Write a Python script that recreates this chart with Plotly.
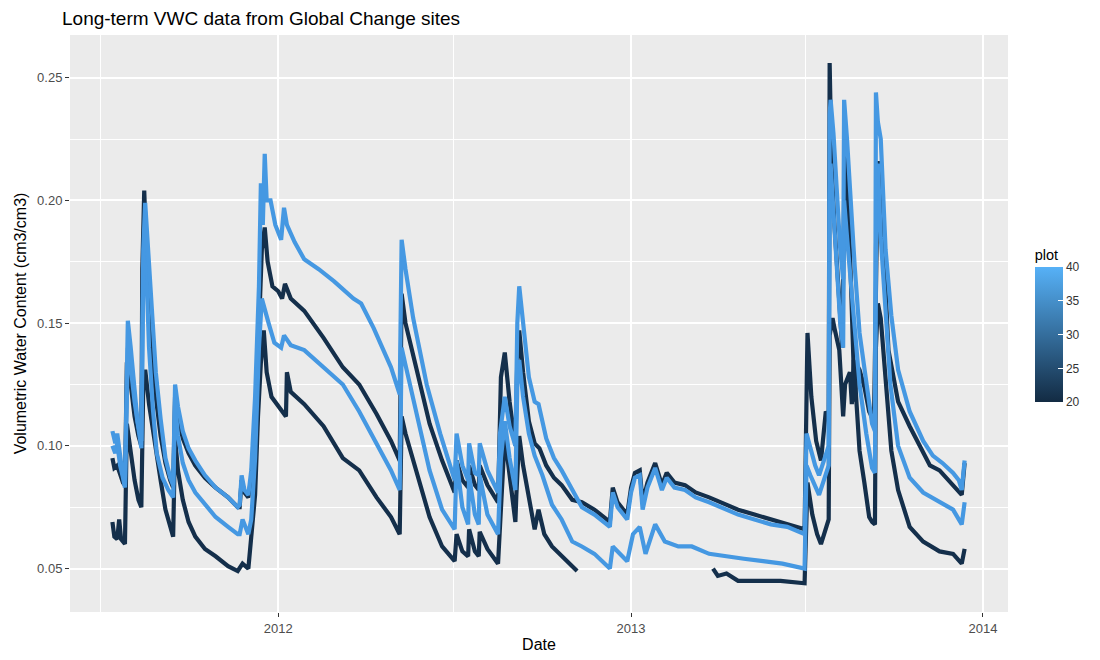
import plotly.graph_objects as go

# four soil moisture probes (cm3/cm3)
a_dates = ['2011-07-13', '2011-07-16', '2011-07-18', '2011-07-21', '2011-07-23', '2011-07-26', '2011-07-29', '2011-08-01',
           '2011-08-04', '2011-08-08', '2011-08-12', '2011-08-14', '2011-08-16', '2011-08-19', '2011-08-24', '2011-08-27',
           '2011-09-01', '2011-09-06', '2011-09-11', '2011-09-14', '2011-09-16', '2011-09-19', '2011-09-24', '2011-09-30',
           '2011-10-07', '2011-10-17', '2011-10-28', '2011-11-10', '2011-11-20', '2011-11-22', '2011-11-24', '2011-11-27',
           '2011-12-01', '2011-12-04', '2011-12-08', '2011-12-12', '2011-12-14', '2011-12-16', '2011-12-18', '2011-12-20',
           '2011-12-24', '2011-12-29', '2012-01-04', '2012-01-07', '2012-01-10', '2012-01-18', '2012-01-28', '2012-02-12',
           '2012-02-28', '2012-03-19', '2012-03-27', '2012-04-09', '2012-04-27', '2012-05-06', '2012-05-08', '2012-05-12',
           '2012-05-20', '2012-06-03', '2012-06-17', '2012-07-02', '2012-07-04', '2012-07-10', '2012-07-16', '2012-07-17',
           '2012-07-23', '2012-07-27', '2012-07-28', '2012-08-05', '2012-08-16', '2012-08-18', '2012-08-23', '2012-08-28',
           '2012-09-03', '2012-09-05', '2012-09-07', '2012-09-11', '2012-09-17', '2012-09-23', '2012-09-27', '2012-10-05',
           '2012-10-13', '2012-10-21', '2012-11-01', '2012-11-11', '2012-11-24', '2012-12-10', '2012-12-13', '2012-12-18',
           '2012-12-28', '2013-01-01', '2013-01-05', '2013-01-10', '2013-01-13', '2013-01-18', '2013-01-26', '2013-02-02',
           '2013-02-07', '2013-02-15', '2013-02-26', '2013-03-09', '2013-03-23', '2013-04-05', '2013-04-22', '2013-05-09',
           '2013-05-26', '2013-06-12', '2013-06-30', '2013-07-02', '2013-07-06', '2013-07-11', '2013-07-15', '2013-07-20',
           '2013-07-25', '2013-07-26', '2013-07-27', '2013-07-30', '2013-08-03', '2013-08-06', '2013-08-09', '2013-08-10',
           '2013-08-13', '2013-08-16', '2013-08-21', '2013-08-26', '2013-08-31', '2013-09-05', '2013-09-08', '2013-09-11',
           '2013-09-12', '2013-09-14', '2013-09-17', '2013-09-22', '2013-09-28', '2013-10-05', '2013-10-17', '2013-10-31',
           '2013-11-10', '2013-11-20', '2013-12-01', '2013-12-07', '2013-12-10', '2013-12-13']
a_vwc = [0.106, 0.101, 0.105, 0.095, 0.090, 0.084, 0.151, 0.140,
         0.125, 0.110, 0.102, 0.180, 0.199, 0.180, 0.150, 0.130,
         0.111, 0.095, 0.087, 0.084, 0.125, 0.116, 0.106, 0.099,
         0.094, 0.088, 0.083, 0.079, 0.075, 0.076, 0.088, 0.082,
         0.080, 0.090, 0.120, 0.165, 0.207, 0.190, 0.219, 0.200,
         0.200, 0.190, 0.184, 0.197, 0.190, 0.183, 0.176, 0.172,
         0.167, 0.160, 0.158, 0.148, 0.132, 0.121, 0.184, 0.172,
         0.152, 0.125, 0.105, 0.086, 0.105, 0.092, 0.086, 0.101,
         0.089, 0.088, 0.101, 0.090, 0.081, 0.105, 0.120, 0.108,
         0.100, 0.150, 0.165, 0.150, 0.128, 0.118, 0.117, 0.103,
         0.095, 0.090, 0.082, 0.075, 0.072, 0.067, 0.081, 0.075,
         0.070, 0.081, 0.087, 0.088, 0.074, 0.083, 0.091, 0.082,
         0.087, 0.083, 0.082, 0.079, 0.077, 0.075, 0.072, 0.070,
         0.068, 0.067, 0.064, 0.105, 0.099, 0.092, 0.088, 0.094,
         0.100, 0.235, 0.241, 0.227, 0.200, 0.180, 0.168, 0.241,
         0.225, 0.205, 0.173, 0.146, 0.132, 0.118, 0.109, 0.106,
         0.244, 0.232, 0.225, 0.180, 0.153, 0.131, 0.114, 0.102,
         0.096, 0.093, 0.089, 0.086, 0.082, 0.094]

b_dates = ['2011-07-13', '2011-07-15', '2011-07-18', '2011-07-21', '2011-07-24', '2011-07-26', '2011-07-28', '2011-08-01',
           '2011-08-05', '2011-08-09', '2011-08-12', '2011-08-13', '2011-08-15', '2011-08-18', '2011-08-22', '2011-08-27',
           '2011-09-01', '2011-09-06', '2011-09-11', '2011-09-14', '2011-09-16', '2011-09-19', '2011-09-24', '2011-09-30',
           '2011-10-07', '2011-10-17', '2011-10-28', '2011-11-10', '2011-11-20', '2011-11-22', '2011-11-24', '2011-11-27',
           '2011-12-01', '2011-12-04', '2011-12-08', '2011-12-12', '2011-12-15', '2011-12-18', '2011-12-21', '2011-12-26',
           '2012-01-01', '2012-01-05', '2012-01-08', '2012-01-14', '2012-01-28', '2012-02-17', '2012-03-08', '2012-03-25',
           '2012-04-12', '2012-04-27', '2012-05-06', '2012-05-08', '2012-05-12', '2012-05-23', '2012-06-06', '2012-06-19',
           '2012-07-02', '2012-07-04', '2012-07-10', '2012-07-16', '2012-07-17', '2012-07-23', '2012-07-27', '2012-07-28',
           '2012-08-05', '2012-08-16', '2012-08-19', '2012-08-23', '2012-08-28', '2012-09-03', '2012-09-05', '2012-09-07',
           '2012-09-11', '2012-09-17', '2012-09-23', '2012-09-28', '2012-10-05', '2012-10-13', '2012-10-21', '2012-11-01',
           '2012-11-11', '2012-11-24', '2012-12-10', '2012-12-13', '2012-12-18', '2012-12-28', '2013-01-01', '2013-01-05',
           '2013-01-10', '2013-01-13', '2013-01-18', '2013-01-26', '2013-02-02', '2013-02-07', '2013-02-15', '2013-02-26',
           '2013-03-09', '2013-03-23', '2013-04-05', '2013-04-22', '2013-05-09', '2013-05-26', '2013-06-12', '2013-06-30',
           '2013-07-03', '2013-07-07', '2013-07-12', '2013-07-17', '2013-07-22', '2013-07-25', '2013-07-26', '2013-07-28',
           '2013-07-31', '2013-08-04', '2013-08-08', '2013-08-10', '2013-08-12', '2013-08-16', '2013-08-19', '2013-08-21',
           '2013-08-23', '2013-08-26', '2013-08-31', '2013-09-05', '2013-09-10', '2013-09-12', '2013-09-14', '2013-09-17',
           '2013-09-20', '2013-09-25', '2013-10-05', '2013-10-17', '2013-10-31', '2013-11-07', '2013-11-17', '2013-11-28',
           '2013-12-10', '2013-12-13']
b_vwc = [0.095, 0.091, 0.092, 0.088, 0.085, 0.084, 0.134, 0.125,
         0.112, 0.104, 0.100, 0.172, 0.204, 0.170, 0.145, 0.120,
         0.104, 0.093, 0.086, 0.083, 0.120, 0.112, 0.103, 0.097,
         0.092, 0.087, 0.083, 0.079, 0.075, 0.075, 0.086, 0.081,
         0.079, 0.087, 0.105, 0.150, 0.180, 0.189, 0.175, 0.165,
         0.163, 0.160, 0.166, 0.160, 0.155, 0.144, 0.132, 0.125,
         0.113, 0.102, 0.094, 0.162, 0.150, 0.132, 0.109, 0.094,
         0.081, 0.094, 0.086, 0.083, 0.092, 0.084, 0.082, 0.092,
         0.084, 0.077, 0.128, 0.138, 0.118, 0.100, 0.135, 0.147,
         0.130, 0.110, 0.101, 0.099, 0.092, 0.087, 0.084, 0.078,
         0.077, 0.074, 0.069, 0.083, 0.077, 0.072, 0.083, 0.089,
         0.090, 0.077, 0.085, 0.093, 0.084, 0.089, 0.085, 0.084,
         0.081, 0.079, 0.077, 0.074, 0.072, 0.070, 0.068, 0.066,
         0.146, 0.120, 0.102, 0.094, 0.114, 0.112, 0.256, 0.214,
         0.190, 0.165, 0.140, 0.200, 0.218, 0.180, 0.139, 0.118,
         0.133, 0.131, 0.124, 0.114, 0.110, 0.170, 0.216, 0.200,
         0.180, 0.139, 0.118, 0.108, 0.097, 0.092, 0.090, 0.085,
         0.080, 0.093]

c_dates = ['2011-07-13', '2011-07-16', '2011-07-18', '2011-07-21', '2011-07-24', '2011-07-26', '2011-07-29', '2011-08-01',
           '2011-08-05', '2011-08-09', '2011-08-12', '2011-08-14', '2011-08-16', '2011-08-20', '2011-08-24', '2011-08-28',
           '2011-09-03', '2011-09-09', '2011-09-14', '2011-09-16', '2011-09-19', '2011-09-24', '2011-09-30', '2011-10-07',
           '2011-10-17', '2011-10-28', '2011-11-10', '2011-11-20', '2011-11-22', '2011-11-25', '2011-12-01', '2011-12-04',
           '2011-12-08', '2011-12-12', '2011-12-15', '2011-12-18', '2011-12-22', '2011-12-28', '2012-01-04', '2012-01-07',
           '2012-01-14', '2012-01-28', '2012-02-17', '2012-03-08', '2012-03-25', '2012-04-12', '2012-04-27', '2012-05-06',
           '2012-05-08', '2012-05-12', '2012-05-23', '2012-06-06', '2012-06-19', '2012-07-02', '2012-07-04', '2012-07-10',
           '2012-07-16', '2012-07-17', '2012-07-23', '2012-07-27', '2012-07-28', '2012-08-05', '2012-08-16', '2012-08-19',
           '2012-08-23', '2012-08-28', '2012-09-03', '2012-09-05', '2012-09-07', '2012-09-11', '2012-09-17', '2012-09-23',
           '2012-10-01', '2012-10-11', '2012-10-21', '2012-11-01', '2012-11-11', '2012-11-24', '2012-12-10', '2012-12-13',
           '2012-12-28', '2013-01-03', '2013-01-10', '2013-01-16', '2013-01-26', '2013-02-05', '2013-02-19', '2013-03-05',
           '2013-03-23', '2013-04-08', '2013-04-28', '2013-05-18', '2013-06-07', '2013-06-30', '2013-07-02', '2013-07-06',
           '2013-07-11', '2013-07-15', '2013-07-20', '2013-07-25', '2013-07-26', '2013-07-27', '2013-07-30', '2013-08-03',
           '2013-08-06', '2013-08-09', '2013-08-10', '2013-08-13', '2013-08-17', '2013-08-21', '2013-08-26', '2013-09-02',
           '2013-09-08', '2013-09-11', '2013-09-12', '2013-09-14', '2013-09-17', '2013-09-20', '2013-09-27', '2013-10-05',
           '2013-10-17', '2013-10-31', '2013-11-17', '2013-12-01', '2013-12-10', '2013-12-13']
c_vwc = [0.100, 0.097, 0.101, 0.092, 0.087, 0.083, 0.140, 0.132,
         0.118, 0.106, 0.099, 0.170, 0.185, 0.140, 0.115, 0.097,
         0.087, 0.082, 0.079, 0.117, 0.104, 0.093, 0.086, 0.081,
         0.076, 0.071, 0.067, 0.064, 0.064, 0.070, 0.064, 0.070,
         0.095, 0.140, 0.160, 0.155, 0.150, 0.142, 0.140, 0.145,
         0.141, 0.139, 0.132, 0.125, 0.114, 0.101, 0.090, 0.082,
         0.140, 0.133, 0.114, 0.090, 0.074, 0.066, 0.094, 0.075,
         0.068, 0.088, 0.072, 0.068, 0.088, 0.072, 0.064, 0.095,
         0.110, 0.095, 0.082, 0.125, 0.135, 0.120, 0.105, 0.096,
         0.088, 0.076, 0.070, 0.061, 0.059, 0.056, 0.050, 0.059,
         0.053, 0.064, 0.067, 0.056, 0.068, 0.061, 0.059, 0.059,
         0.056, 0.055, 0.054, 0.053, 0.052, 0.050, 0.092, 0.088,
         0.083, 0.080, 0.086, 0.092, 0.200, 0.215, 0.195, 0.170,
         0.150, 0.140, 0.200, 0.185, 0.165, 0.146, 0.125, 0.105,
         0.091, 0.089, 0.180, 0.215, 0.185, 0.167, 0.125, 0.100,
         0.087, 0.081, 0.077, 0.074, 0.068, 0.077]

# this probe has no readings between Nov 2012 and late Mar 2013
d_dates = ['2011-07-13', '2011-07-15', '2011-07-18', '2011-07-20', '2011-07-22', '2011-07-26', '2011-07-28', '2011-08-01',
           '2011-08-05', '2011-08-09', '2011-08-12', '2011-08-14', '2011-08-16', '2011-08-20', '2011-08-26', '2011-09-01',
           '2011-09-06', '2011-09-14', '2011-09-16', '2011-09-19', '2011-09-24', '2011-09-30', '2011-10-07', '2011-10-17',
           '2011-10-28', '2011-11-10', '2011-11-20', '2011-11-25', '2011-12-01', '2011-12-03', '2011-12-08', '2011-12-11',
           '2011-12-14', '2011-12-17', '2011-12-20', '2011-12-25', '2012-01-01', '2012-01-09', '2012-01-10', '2012-01-14',
           '2012-01-28', '2012-02-17', '2012-03-08', '2012-03-25', '2012-04-12', '2012-04-27', '2012-05-06', '2012-05-08',
           '2012-05-12', '2012-05-23', '2012-06-06', '2012-06-19', '2012-07-02', '2012-07-04', '2012-07-10', '2012-07-16',
           '2012-07-17', '2012-07-23', '2012-07-27', '2012-07-28', '2012-08-05', '2012-08-16', '2012-08-19', '2012-08-23',
           '2012-08-28', '2012-09-03', '2012-09-04', '2012-09-07', '2012-09-11', '2012-09-17', '2012-09-23', '2012-09-27',
           '2012-10-03', '2012-10-11', '2012-10-21', '2012-11-01', '2012-11-06', '2012-12-15', '2013-03-27', '2013-04-01',
           '2013-04-10', '2013-04-22', '2013-05-12', '2013-06-05', '2013-06-30', '2013-07-03', '2013-07-08', '2013-07-13',
           '2013-07-17', '2013-07-22', '2013-07-25', '2013-07-26', '2013-07-29', '2013-07-31', '2013-08-05', '2013-08-09',
           '2013-08-11', '2013-08-16', '2013-08-18', '2013-08-20', '2013-08-26', '2013-08-31', '2013-09-05', '2013-09-08',
           '2013-09-11', '2013-09-12', '2013-09-14', '2013-09-17', '2013-09-22', '2013-09-28', '2013-10-05', '2013-10-17',
           '2013-10-31', '2013-11-17', '2013-12-01', '2013-12-10', '2013-12-13']
d_vwc = [0.069, 0.063, 0.062, 0.070, 0.062, 0.060, 0.109, 0.097,
         0.086, 0.078, 0.075, 0.125, 0.131, 0.117, 0.100, 0.086,
         0.074, 0.063, 0.103, 0.090, 0.078, 0.069, 0.063, 0.058,
         0.055, 0.051, 0.049, 0.052, 0.050, 0.058, 0.080, 0.112,
         0.134, 0.147, 0.130, 0.120, 0.116, 0.112, 0.130, 0.122,
         0.117, 0.108, 0.095, 0.090, 0.079, 0.071, 0.064, 0.112,
         0.105, 0.090, 0.071, 0.059, 0.053, 0.064, 0.057, 0.055,
         0.066, 0.057, 0.055, 0.065, 0.058, 0.052, 0.075, 0.104,
         0.088, 0.069, 0.080, 0.104, 0.092, 0.078, 0.066, 0.074,
         0.064, 0.059, 0.055, 0.051, 0.049, None, 0.050, 0.047,
         0.048, 0.045, 0.045, 0.045, 0.044, 0.085, 0.072, 0.064,
         0.060, 0.066, 0.070, 0.145, 0.152, 0.148, 0.139, 0.112,
         0.125, 0.130, 0.117, 0.135, 0.098, 0.085, 0.071, 0.069,
         0.068, 0.140, 0.158, 0.152, 0.125, 0.098, 0.082, 0.067,
         0.061, 0.057, 0.056, 0.052, 0.058]

plot_ids = [20, 21, 39, 40]
dark = '#142F4B'
light = '#4598E2'
font = 'Liberation Sans, Arial, sans-serif'
lw = 4.2

fig = go.Figure()
# dark probes first so the light ones sit on top, like ggplot's group order
fig.add_trace(go.Scatter(x=b_dates, y=b_vwc, mode='lines', line=dict(color=dark, width=lw), name='plot 20'))
fig.add_trace(go.Scatter(x=d_dates, y=d_vwc, mode='lines', line=dict(color=dark, width=lw), name='plot 21'))
fig.add_trace(go.Scatter(x=c_dates, y=c_vwc, mode='lines', line=dict(color=light, width=lw), name='plot 39'))
fig.add_trace(go.Scatter(x=a_dates, y=a_vwc, mode='lines', line=dict(color=light, width=lw), name='plot 40'))

# dummy trace that only carries the colourbar
fig.add_trace(go.Scatter(
    x=[None, None], y=[None, None], mode='markers', showlegend=False, hoverinfo='skip',
    marker=dict(color=[min(plot_ids), max(plot_ids)], cmin=20, cmax=40,
                colorscale=[[0, '#132B43'], [1, '#56B1F7']], showscale=True,
                colorbar=dict(title=dict(text='plot', side='top', font=dict(size=14.5, color='black')),
                              tickvals=[20, 25, 30, 35, 40], ticks='inside', ticklen=5, tickcolor='white',
                              tickfont=dict(size=12, color='#333333'),
                              thickness=28, len=156, lenmode='pixels',
                              x=1.0285, xanchor='left', xpad=0, y=0.499, yanchor='middle', ypad=0,
                              outlinewidth=0))))

# the page body adds an 8px offset, so the margins are shifted to compensate
fig.update_layout(
    width=1100, height=660,
    margin=dict(l=54, r=100, t=27, b=56),
    paper_bgcolor='white', plot_bgcolor='#EBEBEB',
    font=dict(family=font, color='#4D4D4D'),
    showlegend=False,
    title=dict(text='Long-term VWC data from Global Change sites', x=54 / 1100, xanchor='left',
               y=1 - 10 / 660, yanchor='middle', font=dict(size=19, color='black')),
)
fig.update_xaxes(
    type='date', range=['2011-05-30', '2014-01-27'],
    dtick='M12', tick0='2012-01-01', tickformat='%Y',
    showgrid=True, gridcolor='white', gridwidth=1.6, zeroline=False,
    ticks='outside', ticklen=4, tickcolor='#333333', tickfont=dict(size=13, color='#4D4D4D'),
    minor=dict(dtick='M6', tick0='2011-07-01', showgrid=True, gridcolor='white', gridwidth=0.8),
    title=dict(text='Date', font=dict(size=16, color='black'), standoff=4),
)
fig.update_yaxes(
    range=[0.0323, 0.2674], dtick=0.05, tick0=0, tickformat='.2f',
    showgrid=True, gridcolor='white', gridwidth=1.6, zeroline=False,
    ticks='outside', ticklen=4, tickcolor='#333333', tickfont=dict(size=13, color='#4D4D4D'),
    minor=dict(dtick=0.025, tick0=0, showgrid=True, gridcolor='white', gridwidth=0.8),
    title=dict(text='Volumetric Water Content (cm3/cm3)', font=dict(size=16, color='black'), standoff=6),
)

fig.write_html('out.html')
